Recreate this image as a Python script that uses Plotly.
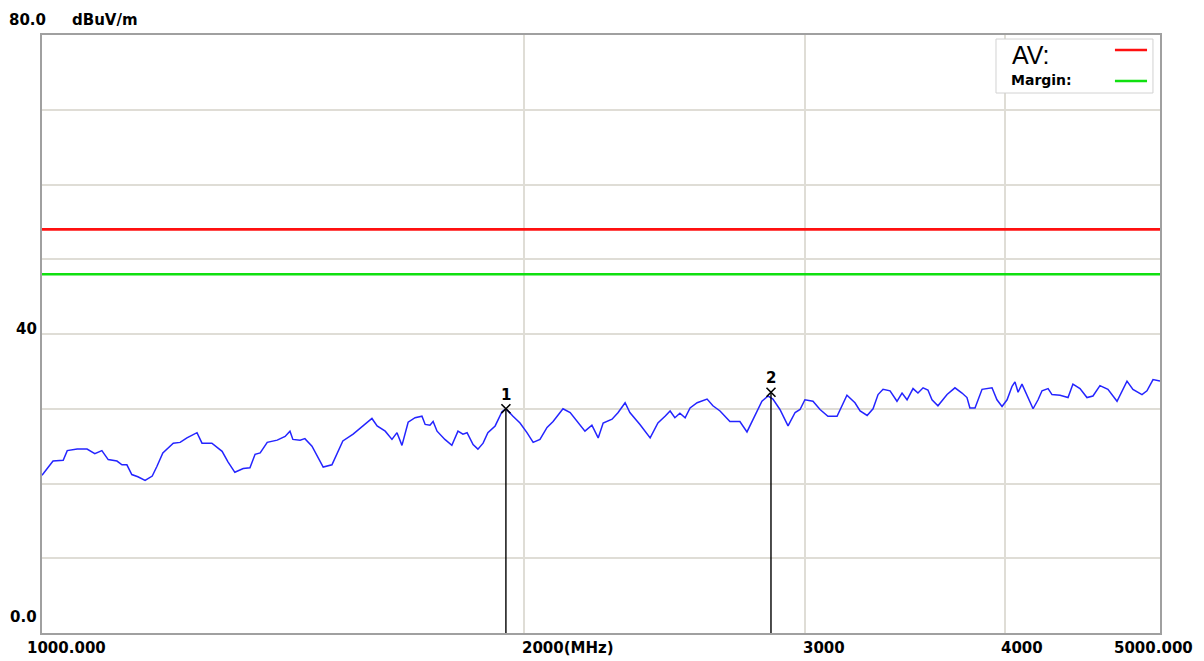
import math
import plotly.graph_objects as go

# ---------------- data ----------------
freq_mhz = [1000, 1016, 1031, 1037, 1052, 1067, 1079, 1090, 1100, 1114, 1122, 1130, 1138, 1148,
            1160, 1172, 1180, 1190, 1208, 1220, 1232, 1250, 1259, 1277, 1296, 1307, 1320, 1336,
            1349, 1359, 1369, 1383, 1403, 1419, 1429, 1435, 1450, 1460, 1475, 1486, 1499, 1518,
            1529, 1542, 1565, 1587, 1608, 1620, 1639, 1655, 1667, 1679, 1694, 1711, 1728, 1736,
            1748, 1756, 1766, 1786, 1804, 1820, 1833, 1844, 1860, 1873, 1887, 1900, 1920, 1939,
            1950, 1970, 1990, 2010, 2028, 2048, 2069, 2087, 2117, 2139, 2163, 2185, 2207, 2227,
            2243, 2272, 2292, 2315, 2331, 2365, 2400, 2427, 2452, 2470, 2487, 2505, 2524, 2542,
            2568, 2605, 2627, 2654, 2692, 2731, 2759, 2783, 2819, 2844, 2864, 2893, 2927, 2957,
            2978, 2999, 3034, 3065, 3100, 3141, 3186, 3223, 3247, 3280, 3308, 3332, 3356, 3390,
            3424, 3449, 3474, 3504, 3529, 3555, 3580, 3601, 3632, 3680, 3722, 3760, 3787, 3803,
            3831, 3870, 3926, 3954, 3983, 4012, 4041, 4058, 4076, 4099, 4129, 4165, 4195, 4219,
            4256, 4280, 4330, 4380, 4411, 4456, 4501, 4540, 4586, 4639, 4700, 4768, 4809, 4872,
            4907, 4950, 5000]
level_dbuv = [21.1, 23.0, 23.1, 24.4, 24.6, 24.6, 24.0, 24.4, 23.2, 23.0, 22.5, 22.5, 21.2, 20.9,
              20.4, 21.0, 22.3, 24.1, 25.4, 25.5, 26.1, 26.8, 25.4, 25.4, 24.3, 22.9, 21.5, 22.0,
              22.1, 23.9, 24.1, 25.5, 25.8, 26.3, 27.0, 25.9, 25.8, 26.0, 25.0, 23.7, 22.2, 22.5,
              23.9, 25.7, 26.6, 27.7, 28.7, 27.7, 27.0, 25.9, 26.8, 25.1, 28.2, 28.8, 29.0, 27.9,
              27.8, 28.3, 27.0, 25.9, 25.1, 27.0, 26.6, 26.8, 25.2, 24.6, 25.4, 26.8, 27.7, 29.6,
              30.0, 29.0, 28.1, 26.8, 25.5, 25.9, 27.5, 28.3, 30.0, 29.5, 28.1, 27.0, 27.8, 26.1,
              28.1, 28.6, 29.5, 30.8, 29.5, 27.9, 26.1, 28.1, 29.0, 29.7, 28.8, 29.4, 28.8, 30.1,
              30.8, 31.3, 30.4, 29.7, 28.3, 28.3, 26.9, 28.6, 31.0, 31.7, 31.3, 29.9, 27.7, 29.5,
              29.9, 31.2, 31.0, 29.9, 29.0, 29.0, 31.8, 30.8, 29.7, 29.1, 30.0, 31.9, 32.6, 32.4,
              31.0, 32.1, 31.2, 32.7, 32.1, 32.8, 32.5, 31.2, 30.4, 31.9, 32.8, 32.1, 31.5, 30.1,
              30.1, 32.6, 32.8, 31.2, 30.3, 31.2, 33.0, 33.6, 32.2, 33.3, 31.9, 30.0, 31.2, 32.4,
              32.7, 31.9, 31.8, 31.5, 33.3, 32.7, 31.5, 31.7, 33.1, 32.6, 31.0, 33.7, 32.6, 31.9,
              32.4, 33.9, 33.7]

limit_av = 54.0
limit_margin = 48.0
marker_ids = ["1", "2"]
marker_freqs = [1950, 2856]
marker_vals = [30.0, 32.2]

x_range = [1000, 5000]
y_range = [0, 80]
x_grid = [2000, 3000, 4000]
x_tick_vals = [1000, 2000, 3000, 4000, 5000]
x_tick_labels = ["1000.000", "2000(MHz)", "3000", "4000", "5000.000"]
y_tick_vals = [80, 40, 0]
y_tick_labels = ["80.0", "40", "0.0"]
y_unit = "dBuV/m"
legend_labels = ["AV:", "Margin:"]

# ---------------- figure ----------------
FONT = "DejaVu Sans"
GRID = "#dfddd6"
FRAME = "#a0a0a0"

fig = go.Figure()

# limit lines
fig.add_trace(go.Scatter(x=x_range, y=[limit_av, limit_av], mode="lines",
                         line=dict(color="#ff1010", width=2.6), hoverinfo="skip"))
fig.add_trace(go.Scatter(x=x_range, y=[limit_margin, limit_margin], mode="lines",
                         line=dict(color="#10e010", width=2.6), hoverinfo="skip"))

# measurement trace
fig.add_trace(go.Scatter(x=freq_mhz, y=level_dbuv, mode="lines",
                         line=dict(color="#2424ff", width=1.5)))

# marker stems
for f, v in zip(marker_freqs, marker_vals):
    fig.add_trace(go.Scatter(x=[f, f], y=[y_range[0], v], mode="lines",
                             line=dict(color="black", width=1.4), hoverinfo="skip"))
fig.add_trace(go.Scatter(x=marker_freqs, y=marker_vals, mode="markers",
                         marker=dict(symbol="x-thin", size=9,
                                     line=dict(color="black", width=1.6))))

annotations = []
for mid, f, v in zip(marker_ids, marker_freqs, marker_vals):
    annotations.append(dict(x=math.log10(f), y=v, xref="x", yref="y", text="<b>%s</b>" % mid,
                            showarrow=False, yshift=14,
                            font=dict(family=FONT, size=15, color="black")))

# x tick labels
x_shifts = [-17, -4, -4, -6, -48]
for val, lab, sh in zip(x_tick_vals, x_tick_labels, x_shifts):
    annotations.append(dict(x=math.log10(val), y=0, xref="x", yref="paper",
                            text="<b>%s</b>" % lab, showarrow=False, xanchor="left",
                            yanchor="middle", xshift=sh, yshift=-15,
                            font=dict(family=FONT, size=15, color="black")))

# y tick labels
y_xshifts = [6, -3, -3]
y_yshifts = [15, 5, 16]
for val, lab, xs, ys in zip(y_tick_vals, y_tick_labels, y_xshifts, y_yshifts):
    annotations.append(dict(x=0, y=val, xref="paper", yref="y", text="<b>%s</b>" % lab,
                            showarrow=False, xanchor="right", yanchor="middle", xshift=xs,
                            yshift=ys, font=dict(family=FONT, size=15, color="black")))
annotations.append(dict(x=0, y=y_tick_vals[0], xref="paper", yref="y",
                        text="<b>%s</b>" % y_unit, showarrow=False, xanchor="left",
                        yanchor="middle", xshift=28, yshift=15,
                        font=dict(family=FONT, size=15, color="black")))

# legend box (drawn manually)
shapes = [
    dict(type="rect", xref="paper", yref="paper", x0=0.8533, x1=0.9937, y0=0.903, y1=0.9933,
         line=dict(color="#d2d2d2", width=1), fillcolor="white", layer="above"),
    dict(type="line", xref="paper", yref="paper", x0=0.9597, x1=0.9884, y0=0.975, y1=0.975,
         line=dict(color="#ff1010", width=2.4), layer="above"),
    dict(type="line", xref="paper", yref="paper", x0=0.9597, x1=0.9884, y0=0.923, y1=0.923,
         line=dict(color="#10e010", width=2.4), layer="above"),
]
annotations.append(dict(x=0.8676, y=0.9666, xref="paper", yref="paper", text=legend_labels[0],
                        showarrow=False, xanchor="left", yanchor="middle", xshift=-2,
                        font=dict(family="Liberation Sans", size=25, color="black")))
annotations.append(dict(x=0.8676, y=0.9247, xref="paper", yref="paper",
                        text="<b>%s</b>" % legend_labels[1], showarrow=False,
                        xanchor="left", yanchor="middle", xshift=-3,
                        font=dict(family=FONT, size=14, color="black")))

# the page body has an 8px default margin: compensate so the plot area sits at
# x 42..1160, y 35..633 of the window
fig.update_layout(
    width=1204, height=661,
    margin=dict(l=34, r=52, t=27, b=36),
    paper_bgcolor="white", plot_bgcolor="white",
    showlegend=False,
    shapes=shapes,
    annotations=annotations,
    xaxis=dict(type="log", range=[math.log10(x_range[0]), math.log10(x_range[1])],
               tickvals=x_grid, showticklabels=False, ticks="",
               showgrid=True, gridcolor=GRID, gridwidth=1.5,
               showline=True, mirror=True, linecolor=FRAME, linewidth=2, zeroline=False),
    yaxis=dict(range=y_range, dtick=10, showticklabels=False, ticks="",
               showgrid=True, gridcolor=GRID, gridwidth=1.5,
               showline=True, mirror=True, linecolor=FRAME, linewidth=2, zeroline=False),
)

fig.write_html("out.html")
